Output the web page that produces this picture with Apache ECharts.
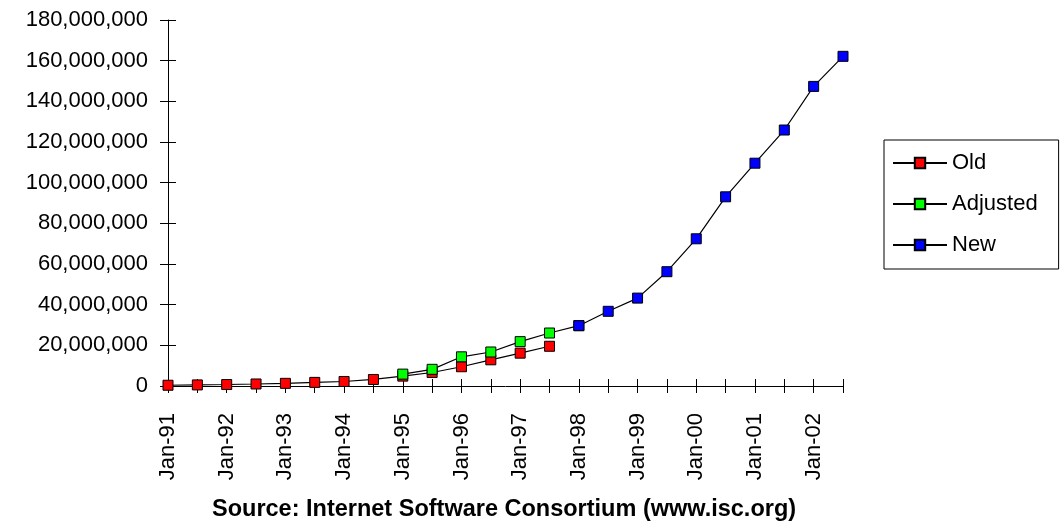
<!DOCTYPE html>
<html><head><meta charset="utf-8">
<script src="https://cdn.jsdelivr.net/npm/echarts@6/dist/echarts.min.js"></script>
<style>html,body{margin:0;padding:0;background:#fff}#c{width:1060px;height:521px}</style>
</head><body><div id="c"></div>
<script>
const categories = ['Jan-91','Jul-91','Jan-92','Jul-92','Jan-93','Jul-93','Jan-94','Jul-94','Jan-95','Jul-95','Jan-96','Jul-96','Jan-97','Jul-97','Jan-98','Jul-98','Jan-99','Jul-99','Jan-00','Jul-00','Jan-01','Jul-01','Jan-02','Jul-02'];
const oldHosts = [376000,535000,727000,992000,1313000,1776000,2217000,3212000,4852000,6642000,9472000,12881000,16146000,19540000,null,null,null,null,null,null,null,null,null,null];
const adjustedHosts = [null,null,null,null,null,null,null,null,5846000,8200000,14352000,16729000,21819000,26053000,29670000,null,null,null,null,null,null,null,null,null];
const newHosts = [null,null,null,null,null,null,null,null,null,null,null,null,null,null,29670000,36739000,43230000,56218000,72398000,93048000,109574000,125888000,147345000,162128000];
const yTicks = {min:0, max:180000000, interval:20000000};

const FONT = 'Liberation Sans';
const chart = echarts.init(document.getElementById('c'));
function mk(name, data, color){
  return {name, type:'line', data, connectNulls:false, symbol:'rect', symbolSize:10,
    lineStyle:{color:'#000', width:1.2}, itemStyle:{color, borderColor:'#000', borderWidth:1},
    emphasis:{disabled:true}, animation:false};
}
chart.setOption({
  animation:false,
  title:{text:'Source: Internet Software Consortium (www.isc.org)', left:207, top:493,
    textStyle:{fontFamily:FONT, fontWeight:'bold', fontSize:23.5, color:'#000'}},
  grid:{left:168, right:217, top:20, bottom:135},
  legend:{left:884, top:140, orient:'vertical', borderColor:'#000', borderWidth:1,
    padding:[12,21,13,8], itemGap:19, itemWidth:54, itemHeight:13,
    textStyle:{fontFamily:FONT, fontSize:22, color:'#000'},
    data:['Old','Adjusted','New']},
  xAxis:[{type:'category', data:categories, boundaryGap:false,
    axisLine:{lineStyle:{color:'#000', width:1}},
    axisTick:{interval:0, length:7, lineStyle:{color:'#000'}},
    axisLabel:{interval:1, rotate:90, margin:27, color:'#000', fontFamily:FONT, fontSize:22}},
   {type:'category', data:categories, boundaryGap:false, position:'bottom',
    axisLine:{show:false}, axisTick:{interval:0, inside:true, length:7, lineStyle:{color:'#000'}},
    axisLabel:{show:false}}],
  yAxis:[{type:'value', min:yTicks.min, max:yTicks.max, interval:yTicks.interval,
    splitLine:{show:false},
    axisLine:{show:true, lineStyle:{color:'#000', width:1}},
    axisTick:{show:true, length:8, lineStyle:{color:'#000'}},
    axisLabel:{margin:20, color:'#000', fontFamily:FONT, fontSize:22,
      formatter:v=>v.toLocaleString('en-US')}},
   {type:'value', min:yTicks.min, max:yTicks.max, interval:yTicks.interval, position:'left',
    splitLine:{show:false}, axisLine:{show:false},
    axisTick:{show:true, inside:true, length:8, lineStyle:{color:'#000'}}, axisLabel:{show:false}}],
  series:[mk('Old', oldHosts, '#ff0000'), mk('Adjusted', adjustedHosts, '#00ff00'), mk('New', newHosts, '#0000ff')]
});
</script></body></html>
